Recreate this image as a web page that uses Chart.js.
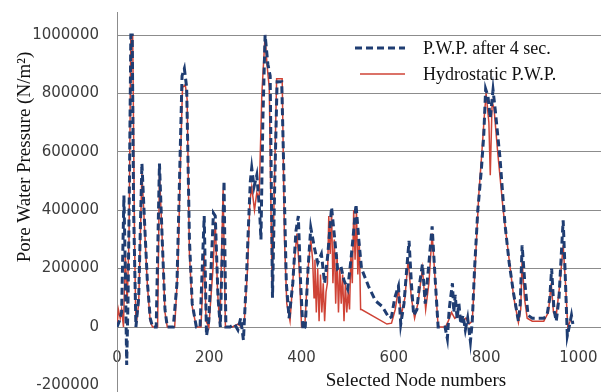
<!DOCTYPE html>
<html>
<head>
<meta charset="utf-8">
<script src="https://cdn.jsdelivr.net/npm/chart.js@4/dist/chart.umd.min.js"></script>
<style>
html,body{margin:0;padding:0;background:#fff;}
#c{display:block;}
</style>
</head>
<body>
<canvas id="c" width="601" height="392"></canvas>
<script>
// ---- data ----
const afterNodes = [0,5,10,15,18,21,24,27,30,33,36,41,47,54,60,66,72,77,85,92,98,104,109,122,130,137,141,146,151,157,163,172,180,189,194,199,209,213,219,224,232,236,245,255,262,268,274,280,285,289,292,297,303,309,312,316,321,327,332,337,342,347,357,362,367,373,381,388,393,398,403,408,414,420,428,435,443,450,457,465,472,478,485,492,500,507,513,518,524,530,545,560,575,590,595,602,610,615,622,628,633,638,643,650,656,662,668,675,683,689,696,711,716,720,723,727,730,733,737,741,745,750,755,760,766,770,775,782,790,795,799,804,809,815,820,830,841,850,859,870,874,878,884,891,900,910,925,932,938,942,947,952,958,963,967,971,976,980,985,988];
const afterPwp = [0,20000,50000,450000,200000,-130000,100000,500000,1000000,1000000,400000,0,100000,560000,350000,150000,30000,0,0,560000,300000,60000,0,0,150000,600000,860000,885000,820000,300000,80000,0,0,380000,-30000,20000,390000,380000,100000,0,500000,0,0,10000,-10000,30000,-45000,150000,350000,500000,545000,480000,520000,400000,300000,700000,1000000,900000,860000,100000,500000,840000,840000,500000,150000,30000,150000,330000,380000,150000,-10000,0,200000,340000,270000,220000,250000,150000,250000,410000,300000,200000,210000,160000,130000,230000,330000,420000,300000,200000,140000,90000,70000,30000,35000,100000,140000,10000,80000,200000,295000,150000,40000,60000,150000,215000,80000,200000,345000,180000,0,0,-40000,60000,100000,150000,50000,110000,30000,80000,10000,40000,-10000,30000,-50000,20000,200000,400000,545000,660000,815000,790000,716000,812000,740000,580000,350000,220000,120000,20000,80000,280000,150000,40000,30000,30000,30000,40000,100000,200000,60000,20000,100000,250000,365000,200000,-30000,0,40000,10000];
const hydroNodes = [0,3,7,10,14,18,22,26,30,34,38,41,47,54,60,66,72,77,88,92,98,104,109,125,132,138,142,148,152,157,163,172,182,189,193,199,208,213,218,223,230,235,250,262,270,276,283,288,292,298,303,308,314,321,325,330,336,340,346,358,363,368,375,383,390,395,400,407,413,420,424,427,429,432,435,438,441,444,447,450,453,456,459,462,465,468,471,474,477,480,483,486,489,492,495,498,501,504,507,510,513,516,519,522,525,528,530,585,595,603,610,616,624,631,638,645,652,662,669,676,683,690,696,712,718,725,732,740,748,756,763,770,776,784,790,796,800,806,809,813,817,825,837,850,860,870,875,878,883,889,900,925,935,941,946,952,960,967,972,977,982,986];
const hydroPwp = [0,60000,30000,60000,0,250000,80000,300000,1000000,1000000,300000,0,80000,530000,330000,140000,20000,0,0,530000,300000,50000,0,0,200000,600000,820000,830000,780000,250000,70000,0,0,260000,20000,0,200000,360000,120000,0,470000,0,0,10000,0,20000,200000,430000,480000,400000,460000,440000,800000,1000000,900000,820000,150000,400000,850000,850000,300000,80000,20000,200000,320000,200000,0,0,180000,300000,230000,100000,230000,50000,200000,20000,180000,50000,150000,20000,120000,150000,380000,250000,400000,150000,300000,80000,250000,50000,200000,80000,180000,20000,150000,50000,120000,60000,250000,150000,400000,230000,400000,180000,300000,60000,60000,10000,13000,60000,130000,40000,100000,230000,100000,30000,80000,200000,60000,150000,320000,150000,0,0,20000,50000,30000,40000,20000,30000,10000,20000,200000,450000,580000,720000,800000,700000,520000,770000,750000,600000,400000,230000,100000,15000,60000,230000,100000,30000,20000,20000,50000,150000,50000,40000,150000,280000,150000,0,20000,40000];
const seriesNames = ['P.W.P. after 4 sec.', 'Hydrostatic P.W.P.'];
const xTickValues = [0,200,400,600,800,1000];
const yTickValues = [-200000,0,200000,400000,600000,800000,1000000];
const xTitle = 'Selected Node numbers';
const yTitle = 'Pore Water Pressure (N/m\u00B2)';

const toPts = (xs, ys) => xs.map((x, i) => ({x: x, y: ys[i]}));

const BLUE = '#1F3D72';
const RED = '#CF4336';
const GRID = '#8c8c8c';
const TICK = '#3c3c3c';
const SERIF = '"Liberation Serif", "Times New Roman", serif';

const decor = {
  id: 'decor',
  afterDraw(chart) {
    const ctx = chart.ctx;
    ctx.save();
    // axis titles
    ctx.fillStyle = '#111';
    ctx.font = '19px ' + SERIF;
    ctx.textAlign = 'center';
    ctx.textBaseline = 'alphabetic';
    ctx.fillText(xTitle, 416, 386);
    ctx.translate(30, 157);
    ctx.rotate(-Math.PI / 2);
    ctx.textBaseline = 'alphabetic';
    ctx.fillText(yTitle, 0, 0);
    ctx.restore();
    // legend
    ctx.save();
    const ds = chart.data.datasets;
    const rows = [48, 74];
    ds.forEach((d, i) => {
      const y = rows[i];
      ctx.beginPath();
      ctx.strokeStyle = d.borderColor;
      ctx.lineWidth = d.borderWidth;
      ctx.setLineDash(d.borderDash || []);
      ctx.moveTo(i === 0 ? 355 : 360, y);
      ctx.lineTo(405, y);
      ctx.stroke();
      ctx.setLineDash([]);
      ctx.fillStyle = '#111';
      ctx.font = '18px ' + SERIF;
      ctx.textAlign = 'left';
      ctx.textBaseline = 'middle';
      ctx.fillText(d.label, 423, y + 1);
    });
    ctx.restore();
  }
};

new Chart(document.getElementById('c'), {
  type: 'scatter',
  data: {
    datasets: [
      {
        label: seriesNames[0],
        data: toPts(afterNodes, afterPwp),
        showLine: true,
        borderColor: BLUE,
        borderWidth: 3,
        borderDash: [7, 4],
        pointRadius: 0,
        tension: 0,
        fill: false
      },
      {
        label: seriesNames[1],
        data: toPts(hydroNodes, hydroPwp),
        showLine: true,
        borderColor: RED,
        borderWidth: 1.5,
        pointRadius: 0,
        tension: 0,
        fill: false
      }
    ]
  },
  options: {
    responsive: false,
    animation: false,
    devicePixelRatio: 1,
    layout: { padding: { top: 12, bottom: 0, left: 0, right: 0 } },
    plugins: { legend: { display: false }, tooltip: { enabled: false } },
    scales: {
      x: {
        type: 'linear',
        position: { y: 0 },
        min: 0,
        max: 1049,
        grid: { display: false, drawTicks: false },
        border: { display: false },
        afterBuildTicks: s => { s.ticks = xTickValues.map(v => ({value: v})); },
        afterFit: s => { s.paddingLeft = 0; s.paddingRight = 0; s.paddingTop = 0; s.paddingBottom = 0; },
        ticks: {
          color: TICK,
          padding: 22,
          maxRotation: 0,
          autoSkip: false,
          font: { family: '"DejaVu Sans", Verdana, sans-serif', size: 15 },
          callback: v => String(v)
        }
      },
      y: {
        type: 'linear',
        min: -222600,
        max: 1078767,
        grid: {
          drawTicks: false,
          color: ctx => (ctx.tick && ctx.tick.value < 0) ? 'rgba(0,0,0,0)' : GRID,
          lineWidth: 1
        },
        border: { display: true, color: GRID, width: 1 },
        afterBuildTicks: s => { s.ticks = yTickValues.map(v => ({value: v})); },
        afterFit: s => { s.width = 117; s.paddingTop = 0; s.paddingBottom = 0; s.paddingLeft = 0; s.paddingRight = 0; },
        ticks: {
          color: TICK,
          padding: 18,
          autoSkip: false,
          font: { family: '"DejaVu Sans", Verdana, sans-serif', size: 15, lineHeight: 1 },
          callback: v => String(v)
        }
      }
    }
  },
  plugins: [decor]
});
</script>
</body>
</html>
